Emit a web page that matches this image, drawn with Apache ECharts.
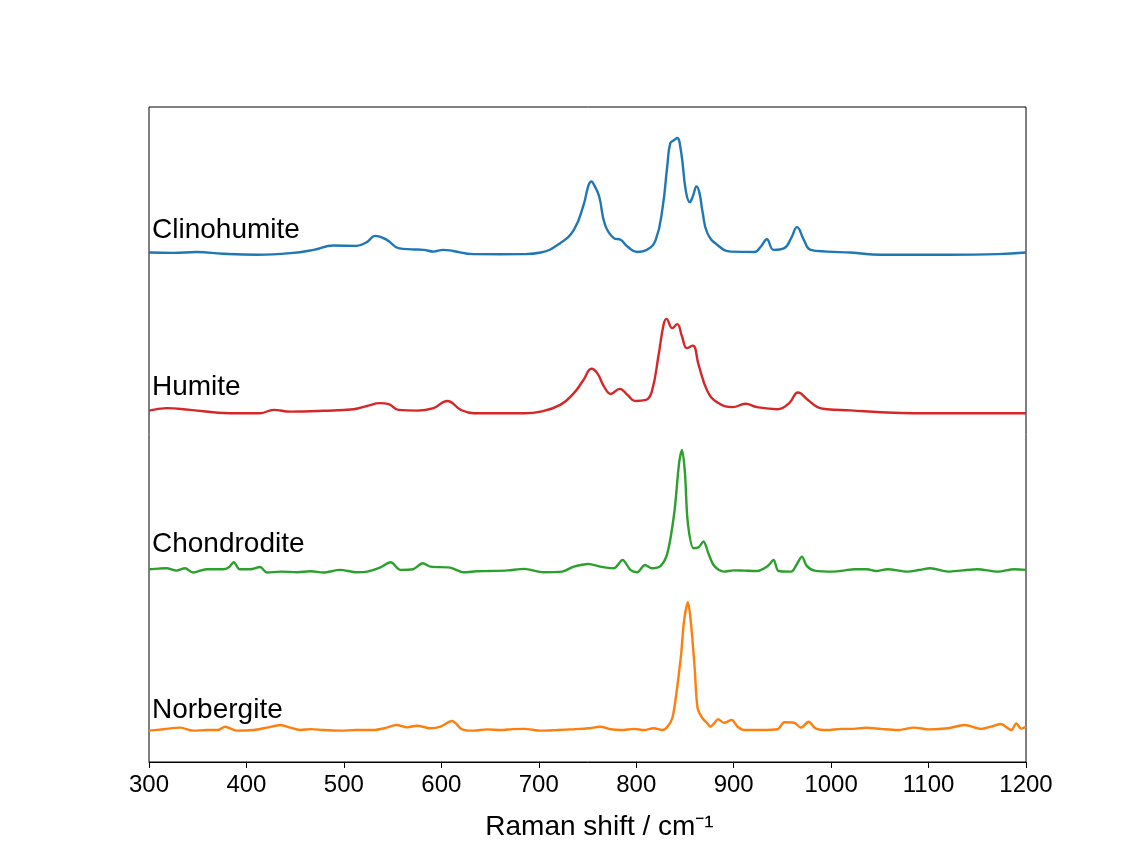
<!DOCTYPE html>
<html>
<head>
<meta charset="utf-8">
<script src="https://cdn.jsdelivr.net/npm/echarts@6/dist/echarts.min.js"></script>
<style>
  html, body { margin: 0; padding: 0; background: #fff; }
  #chart { width: 1130px; height: 848px; }
</style>
</head>
<body>
<div id="chart"></div>
<script>
// Raman spectra, [shift cm-1, intensity], stacked with offsets
const clinohumite = [
  [300, 0.008], [325, 0.006], [349, 0.011], [376, 0.000], [411, -0.006], [445, 0.004],
  [469, 0.025], [489, 0.052], [513, 0.050], [524, 0.075], [532, 0.113], [544, 0.088],
  [556, 0.036], [570, 0.028], [582, 0.025], [592, 0.014], [602, 0.025], [612, 0.018],
  [633, -0.002], [660, -0.003], [684, -0.002], [702, 0.008], [722, 0.067], [736, 0.151],
  [746, 0.308], [751, 0.430], [754, 0.455], [757, 0.430], [762, 0.360], [768, 0.182],
  [777, 0.099], [784, 0.088], [791, 0.046], [801, 0.011], [811, 0.025], [820, 0.088],
  [827, 0.287], [832, 0.560], [835, 0.696], [839, 0.715], [842, 0.728], [846, 0.643],
  [851, 0.392], [855, 0.325], [858, 0.360], [862, 0.423], [865, 0.380], [868, 0.266],
  [873, 0.130], [883, 0.057], [897, 0.014], [921, 0.011], [928, 0.046], [934, 0.092],
  [941, 0.025], [952, 0.036], [959, 0.099], [965, 0.168], [972, 0.088], [979, 0.025],
  [996, 0.014], [1020, 0.008], [1051, -0.006], [1120, -0.006], [1171, -0.002], [1200, 0.008]
]
const humite = [
  [300, 0.014], [318, 0.030], [342, 0.019], [383, -0.002], [414, -0.002], [428, 0.019],
  [445, 0.008], [479, 0.013], [510, 0.023], [524, 0.044], [537, 0.061], [546, 0.055],
  [556, 0.019], [575, 0.014], [592, 0.030], [606, 0.075], [620, 0.019], [633, -0.002],
  [685, -0.002], [702, 0.008], [722, 0.050], [736, 0.124], [746, 0.208], [754, 0.277],
  [760, 0.250], [767, 0.165], [774, 0.119], [783, 0.151], [791, 0.113], [799, 0.075],
  [810, 0.082], [816, 0.134], [823, 0.365], [828, 0.553], [831, 0.591], [837, 0.533],
  [842, 0.558], [847, 0.480], [852, 0.407], [858, 0.423], [864, 0.302], [873, 0.138],
  [883, 0.067], [899, 0.036], [912, 0.057], [924, 0.036], [945, 0.023], [957, 0.061],
  [966, 0.128], [976, 0.082], [986, 0.036], [996, 0.023], [1020, 0.016], [1051, 0.004],
  [1085, -0.002], [1200, -0.002]
]
const chondrodite = [
  [300, 0.017], [310, 0.021], [318, 0.023], [328, 0.008], [337, 0.023], [345, -0.004],
  [359, 0.017], [376, 0.017], [382, 0.030], [387, 0.061], [393, 0.017], [404, 0.017],
  [414, 0.031], [421, -0.004], [435, 0.002], [452, -0.002], [466, 0.004], [479, -0.004],
  [496, 0.013], [513, -0.002], [524, 0.002], [537, 0.027], [548, 0.061], [558, 0.013],
  [571, 0.017], [581, 0.055], [589, 0.033], [609, 0.027], [623, -0.002], [636, 0.004],
  [650, 0.006], [668, 0.010], [685, 0.019], [705, -0.002], [724, 0.002], [736, 0.033],
  [751, 0.050], [763, 0.033], [777, 0.023], [786, 0.075], [794, 0.013], [801, -0.002],
  [809, 0.044], [816, 0.023], [825, 0.038], [832, 0.118], [839, 0.369], [844, 0.684],
  [847, 0.767], [850, 0.621], [853, 0.306], [859, 0.149], [864, 0.155], [869, 0.191],
  [874, 0.118], [880, 0.038], [890, 0.002], [900, 0.010], [911, 0.008], [924, 0.006],
  [935, 0.038], [941, 0.075], [946, 0.006], [959, 0.002], [965, 0.050], [970, 0.096],
  [975, 0.038], [983, 0.008], [1003, 0.002], [1014, 0.010], [1024, 0.017], [1037, 0.017],
  [1046, 0.006], [1058, 0.017], [1078, 0.002], [1090, 0.012], [1102, 0.023], [1120, 0.002],
  [1135, 0.010], [1150, 0.017], [1171, 0.002], [1188, 0.017], [1200, 0.013]
]
const norbergite = [
  [300, 0.002], [315, 0.011], [332, 0.021], [345, 0.002], [359, 0.006], [371, 0.006],
  [378, 0.027], [390, 0.002], [407, 0.006], [421, 0.021], [435, 0.038], [445, 0.021],
  [455, 0.006], [467, 0.012], [479, 0.006], [496, 0.002], [513, 0.006], [530, 0.006],
  [544, 0.021], [554, 0.038], [565, 0.023], [575, 0.033], [589, 0.017], [599, 0.027],
  [611, 0.063], [621, 0.011], [633, 0.002], [647, 0.010], [661, 0.006], [673, 0.012],
  [685, 0.013], [702, 0.002], [719, 0.006], [736, 0.011], [751, 0.017], [763, 0.027],
  [774, 0.011], [784, 0.006], [798, 0.013], [808, 0.006], [818, 0.017], [827, 0.006],
  [832, 0.027], [837, 0.080], [841, 0.226], [846, 0.478], [849, 0.687], [853, 0.809],
  [856, 0.687], [860, 0.394], [863, 0.143], [868, 0.080], [873, 0.048], [876, 0.027],
  [880, 0.048], [884, 0.074], [890, 0.052], [898, 0.069], [904, 0.027], [911, 0.006],
  [928, 0.006], [945, 0.011], [952, 0.055], [962, 0.052], [969, 0.021], [977, 0.058],
  [984, 0.017], [996, 0.006], [1010, 0.013], [1020, 0.013], [1036, 0.020], [1051, 0.013],
  [1068, 0.006], [1085, 0.021], [1101, 0.010], [1120, 0.017], [1137, 0.038], [1154, 0.013],
  [1164, 0.027], [1174, 0.044], [1185, 0.006], [1190, 0.048], [1195, 0.015], [1200, 0.027]
]

const names = ['Clinohumite', 'Humite', 'Chondrodite', 'Norbergite']
const spectra = [clinohumite, humite, chondrodite, norbergite]
const offsets = [3, 2, 1, 0]
const colors = ['#1f77b4', '#d62728', '#2ca02c', '#ff7f0e']
// where each name sits, in data units
const labelShift = [300, 300, 300, 300]
const labelHeight = [3.150, 2.163, 1.175, 0.131]
const xTicks = [300, 400, 500, 600, 700, 800, 900, 1000, 1100, 1200]

const FONT = 'Liberation Sans, Arial, sans-serif'
const smoothness = [0.45, 0.45, 0.3, 0.3]

const chart = echarts.init(document.getElementById('chart'))

const lineSeries = spectra.map((spec, i) => ({
  name: names[i],
  type: 'line',
  data: spec.map(([x, y]) => [x, y + offsets[i]]),
  showSymbol: false,
  smooth: smoothness[i],
  lineStyle: { color: colors[i], width: 2.4 },
  silent: true,
}))

const labelSeries = {
  type: 'scatter',
  symbolSize: 0,
  silent: true,
  itemStyle: { color: '#000', opacity: 1 },
  data: names.map((n, i) => ({ value: [labelShift[i], labelHeight[i]], name: n })),
  label: {
    show: true,
    position: 'right',
    distance: 3,
    align: 'left',
    verticalAlign: 'middle',
    formatter: (p) => p.name,
    color: '#000000',
    opacity: 1,
    fontSize: 28,
    fontFamily: FONT,
  },
}

chart.setOption({
  animation: false,
  grid: {
    left: 149,
    right: 104,
    top: 107,
    bottom: 86,
    show: true,
    borderColor: '#000',
    borderWidth: 1,
  },
  xAxis: {
    type: 'value',
    min: xTicks[0],
    max: xTicks[xTicks.length - 1],
    interval: 100,
    name: 'Raman shift / cm⁻¹',
    nameLocation: 'middle',
    nameGap: 51,
    nameTextStyle: {
      color: '#000',
      fontSize: 28,
      fontFamily: FONT,
      padding: [0, 0, 0, 24],
    },
    axisLine: { show: true, onZero: false, lineStyle: { color: '#000', width: 1 } },
    axisTick: { show: true, inside: false, length: 6, lineStyle: { color: '#000' } },
    axisLabel: {
      color: '#000',
      fontSize: 24,
      margin: 11,
      fontFamily: FONT,
      formatter: (v) => String(v),
    },
    splitLine: { show: false },
  },
  yAxis: {
    type: 'value',
    min: -0.195,
    max: 3.923,
    axisLine: { show: false },
    axisTick: { show: false },
    axisLabel: { show: false },
    splitLine: { show: false },
  },
  series: [...lineSeries, labelSeries],
})
</script>
</body>
</html>
